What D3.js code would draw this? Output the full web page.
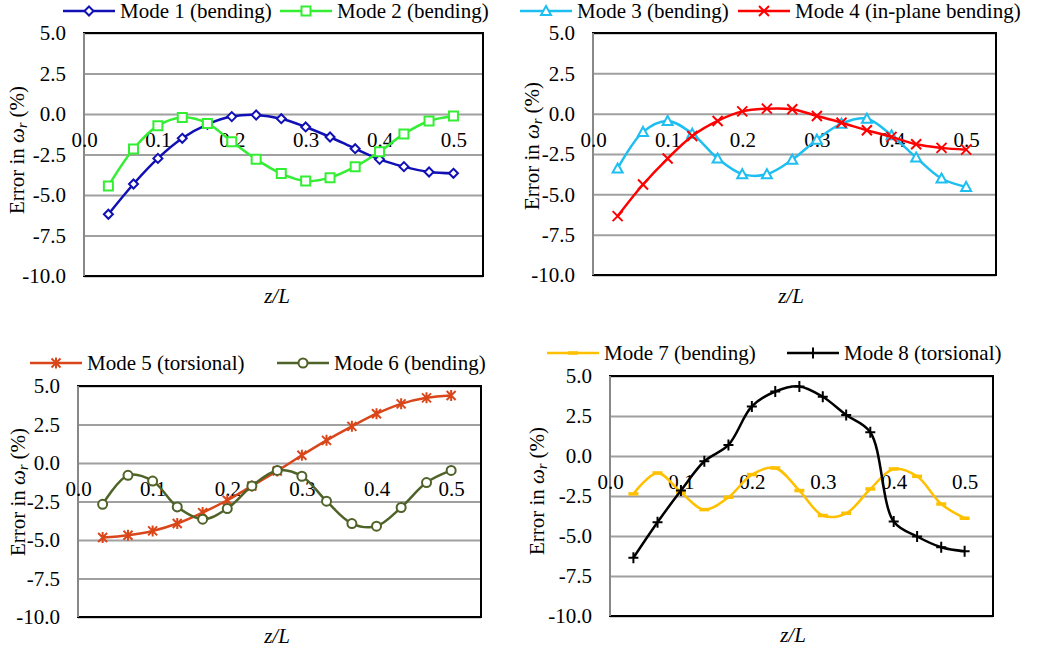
<!DOCTYPE html>
<html>
<head>
<meta charset="utf-8">
<script src="https://cdn.jsdelivr.net/npm/d3@7"></script>
<style>
  body { margin: 0; background: #fff; }
  text { font-family: 'Liberation Serif', 'Times New Roman', serif; fill: #000; }
</style>
</head>
<body>
<svg id="chart" width="1042" height="652"></svg>
<script>
// position along the beam (z/L)
const zL = [0.033, 0.067, 0.1, 0.133, 0.167, 0.2, 0.233, 0.267, 0.3, 0.333, 0.367, 0.4, 0.433, 0.467, 0.5]
const xTicks = [0.0, 0.1, 0.2, 0.3, 0.4, 0.5]
const yTicks = [5.0, 2.5, 0.0, -2.5, -5.0, -7.5, -10.0]

// error in natural frequency (%)
const mode1 = [-6.19, -4.32, -2.74, -1.50, -0.64, -0.16, -0.06, -0.29, -0.80, -1.42, -2.14, -2.80, -3.25, -3.58, -3.66]
const mode2 = [-4.44, -2.16, -0.72, -0.21, -0.58, -1.71, -2.80, -3.68, -4.14, -3.93, -3.25, -2.33, -1.23, -0.43, -0.12]
const mode3 = [-3.40, -1.13, -0.45, -1.24, -2.78, -3.75, -3.75, -2.85, -1.61, -0.62, -0.31, -1.34, -2.72, -4.02, -4.54]
const mode4 = [-6.35, -4.39, -2.78, -1.38, -0.45, 0.14, 0.31, 0.27, -0.14, -0.56, -1.03, -1.44, -1.90, -2.12, -2.23]
const mode5 = [-4.84, -4.69, -4.41, -3.93, -3.22, -2.42, -1.49, -0.52, 0.50, 1.47, 2.38, 3.20, 3.84, 4.23, 4.38]
const mode6 = [-2.68, -0.80, -1.17, -2.85, -3.65, -2.96, -1.49, -0.48, -0.86, -2.48, -3.93, -4.10, -2.89, -1.27, -0.48]
const mode7 = [-2.37, -1.06, -2.27, -3.35, -2.58, -1.16, -0.75, -2.16, -3.72, -3.58, -2.06, -0.81, -1.27, -3.00, -3.89]
const mode8 = [-6.36, -4.14, -2.16, -0.33, 0.69, 3.10, 4.03, 4.35, 3.70, 2.56, 1.48, -4.10, -5.03, -5.70, -5.95]

const panels = [
  {
    box: { left: 84, right: 483, top: 33, bottom: 276 },
    yTitle: [17, 150], xTitle: [277, 303],
    series: [
      { name: 'Mode 1 (bending)', values: mode1, color: '#1010b4', marker: 'diamond', legend: [63, 11] },
      { name: 'Mode 2 (bending)', values: mode2, color: '#33ee33', marker: 'square', legend: [280, 11] }
    ]
  },
  {
    box: { left: 593, right: 996, top: 33, bottom: 275 },
    yTitle: [532, 146], xTitle: [791, 303],
    series: [
      { name: 'Mode 3 (bending)', values: mode3, color: '#1ebff0', marker: 'triangle', legend: [520, 11] },
      { name: 'Mode 4 (in-plane bending)', values: mode4, color: '#ff0000', marker: 'x', legend: [738, 11] }
    ]
  },
  {
    box: { left: 78, right: 481, top: 386, bottom: 617 },
    yTitle: [18, 492], xTitle: [277, 643],
    series: [
      { name: 'Mode 5 (torsional)', values: mode5, color: '#d9461a', marker: 'star', legend: [30, 363] },
      { name: 'Mode 6 (bending)', values: mode6, color: '#4f6228', marker: 'circle', legend: [277, 363] }
    ]
  },
  {
    box: { left: 610, right: 993, top: 376, bottom: 616 },
    yTitle: [537, 491], xTitle: [793, 642],
    series: [
      { name: 'Mode 7 (bending)', values: mode7, color: '#ffc000', marker: 'dash', legend: [547, 353] },
      { name: 'Mode 8 (torsional)', values: mode8, color: '#000000', marker: 'plus', legend: [787, 353] }
    ]
  }
]

const svg = d3.select('#chart')
const fmt = v => v.toFixed(1)
const lineFn = d3.line().curve(d3.curveCatmullRom.alpha(0.5))

// marker path by shape name, centred at 0,0
function markerPath (shape) {
  switch (shape) {
    case 'diamond': return 'M0,-4.5L4.5,0L0,4.5L-4.5,0Z'
    case 'square': return 'M-4.5,-4.5H4.5V4.5H-4.5Z'
    case 'triangle': return 'M0,-5L5,4H-5Z'
    case 'x': return 'M-5,-5L5,5M-5,5L5,-5'
    case 'star': return 'M-4.5,-4.5L4.5,4.5M-4.5,4.5L4.5,-4.5M0,-5.5V5.5'
    case 'circle': return d3.arc()({ innerRadius: 0, outerRadius: 4.5, startAngle: 0, endAngle: 2 * Math.PI })
    case 'dash': return 'M-5,0H5'
    case 'plus': return 'M-5,0H5M0,-5.5V5.5'
  }
}

function drawMarker (g, s) {
  const open = ['diamond', 'square', 'triangle', 'circle'].includes(s.marker)
  g.append('path')
    .attr('d', markerPath(s.marker))
    .style('fill', open ? '#fff' : 'none')
    .style('stroke', s.color)
    .style('stroke-width', s.marker === 'dash' ? 3.5 : 2)
}

panels.forEach(p => {
  const b = p.box
  const x = d3.scaleLinear().domain([0, 0.54]).range([b.left, b.right])
  const y = d3.scaleLinear().domain([-10, 5]).range([b.bottom, b.top])
  const g = svg.append('g').classed('panel', true)

  // gridlines
  g.append('g')
    .attr('transform', `translate(${b.left},0)`)
    .call(d3.axisLeft(y).tickValues(yTicks).tickSize(-(b.right - b.left)).tickFormat(''))
    .call(a => a.select('.domain').remove())
    .selectAll('line')
    .style('stroke', '#a0a0a0')
    .style('stroke-width', 2)

  // plot border
  g.append('rect')
    .attr('x', b.left)
    .attr('y', b.top)
    .attr('width', b.right - b.left)
    .attr('height', b.bottom - b.top)
    .style('fill', 'none')
    .style('stroke', '#000')
    .style('stroke-width', 2)

  g.append('line')
    .attr('x1', b.left).attr('x2', b.left)
    .attr('y1', b.top).attr('y2', b.bottom)
    .style('stroke', '#888')
    .style('stroke-width', 2)

  // y tick labels
  const yAxis = g.append('g')
    .attr('transform', `translate(${b.left},0)`)
    .call(d3.axisLeft(y).tickValues(yTicks).tickSize(0).tickPadding(18).tickFormat(fmt))
  yAxis.select('.domain').remove()
  yAxis.selectAll('text')
    .style('font-family', "'Liberation Serif', serif")
    .style('font-size', '21px')
    .attr('fill', '#000')

  // x tick labels, sitting under the zero line
  const xAxis = g.append('g')
    .attr('transform', `translate(0,${y(0)})`)
    .call(d3.axisBottom(x).tickValues(xTicks).tickSize(0).tickPadding(0).tickFormat(fmt))
  xAxis.select('.domain').remove()
  xAxis.selectAll('text')
    .attr('dy', null)
    .attr('y', 26)
    .attr('dominant-baseline', 'central')
    .style('font-family', "'Liberation Serif', serif")
    .style('font-size', '21px')
    .attr('fill', '#000')

  // series lines + markers
  p.series.forEach(s => {
    const pts = zL.map((z, i) => [x(z), y(s.values[i])])
    g.append('path')
      .attr('d', lineFn(pts))
      .style('fill', 'none')
      .style('stroke', s.color)
      .style('stroke-width', 2.5)
    pts.forEach(pt => {
      drawMarker(g.append('g').attr('transform', `translate(${pt[0]},${pt[1]})`), s)
    })

    // legend entry
    const lg = g.append('g').attr('transform', `translate(${s.legend[0]},${s.legend[1]})`)
    lg.append('line')
      .attr('x1', 0).attr('x2', 52)
      .style('stroke', s.color)
      .style('stroke-width', 2.5)
    drawMarker(lg.append('g').attr('transform', 'translate(26,0)'), s)
    lg.append('text')
      .attr('x', 57)
      .attr('dominant-baseline', 'central')
      .style('font-size', '21px')
      .text(s.name)
  })

  // axis titles
  const yt = g.append('text')
    .attr('transform', `translate(${p.yTitle[0]},${p.yTitle[1]}) rotate(-90)`)
    .attr('text-anchor', 'middle')
    .attr('dominant-baseline', 'central')
    .style('font-size', '21px')
  yt.append('tspan').text('Error in ')
  yt.append('tspan').style('font-style', 'italic').text('ω')
  yt.append('tspan').style('font-style', 'italic').style('font-size', '14px').attr('dy', 5).text('r')
  yt.append('tspan').attr('dy', -5).text(' (%)')

  g.append('text')
    .attr('x', p.xTitle[0])
    .attr('y', p.xTitle[1])
    .attr('text-anchor', 'middle')
    .style('font-size', '21px')
    .style('font-style', 'italic')
    .text('z/L')
})
</script>
</body>
</html>
